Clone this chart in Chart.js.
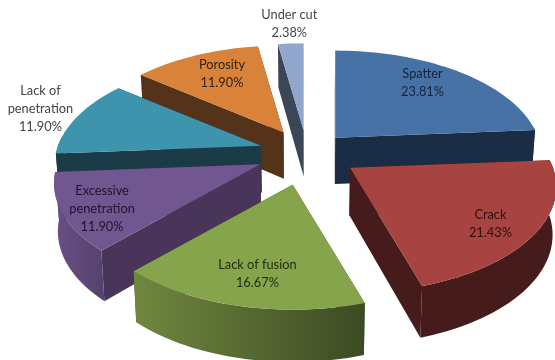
<!DOCTYPE html>
<html>
<head>
<meta charset="utf-8">
<title>Weld defects</title>
<script src="https://cdn.jsdelivr.net/npm/chart.js@4"></script>
<style>
  html, body { margin: 0; background: #fff; }
  canvas { display: block; }
</style>
</head>
<body>
<canvas id="chart" width="555" height="360"></canvas>
<script>
// defect shares in percent
const categories = ['Spatter', 'Crack', 'Lack of fusion', 'Excessive\npenetration', 'Lack of\npenetration', 'Porosity', 'Under cut'];
const shares = [23.81, 21.43, 16.67, 11.90, 11.90, 11.90, 2.38];

const topColors = ['#4672a6', '#a74340', '#86a44c', '#71568f', '#3f94ad', '#d8823a', '#90a6cc'];
const sideColors = ['#1b2d44', '#451c1b', '#3c4a22', '#483559', '#1b3b47', '#55331a', '#3b4658'];
const wallColors = [['#1b2d44', '#1b2d44'], ['#451c1b', '#451c1b'], ['#70873f', '#3c4a22'], ['#6a5086', '#57426f'], ['#1b3b47', '#1b3b47'], ['#55331a', '#55331a'], ['#3b4658', '#3b4658']];

// how far each slice is pulled out, as a fraction of the radius
const explode = [0.21, 0.25, 0.30, 0.25, 0.24, 0.24, 0.23];
// label placement along the slice's middle angle
const labelDist = [0.94, 0.99, 0.95, 1.04, 1.476, 0.95, 1.58];
const labelNudge = [[0, -7], [-1, 7], [2, 7], [2, 6], [-1, -2.5], [-1, -6], [1, -3]];
const labelColors = ['#15233a', '#2a1010', '#1f2a0c', '#1e1430', '#444444', '#33220f', '#444444'];

// perspective for the tilted disc
const cx = 307, cy = 153, scaleX = 203, scaleY = 102.6, persp = 0.179;
const lineHeight = 18;

function project(u, v) {
    const w = 1 - persp * v;
    return { x: cx + scaleX * u / w, y: cy + scaleY * v / w };
}

// same point on the underside of the disc
function drop(p) {
    return { x: cx + (p.x - cx) * 0.985, y: p.y + 47 + 3.5 * (p.y - cy) / scaleY };
}

function fillPoly(ctx, points, fill) {
    ctx.beginPath();
    points.forEach((p, i) => i ? ctx.lineTo(p.x, p.y) : ctx.moveTo(p.x, p.y));
    ctx.closePath();
    ctx.fillStyle = fill;
    ctx.fill();
}

function drawSlice(ctx, arc, i) {
    const mid = (arc.startAngle + arc.endAngle) / 2;
    const apex = project(explode[i] * Math.cos(mid), explode[i] * Math.sin(mid));
    const rim = [];
    for (let a = arc.startAngle; a < arc.endAngle; a += Math.PI / 90) rim.push(a);
    rim.push(arc.endAngle);
    // the rim keeps the shape of the centred disc, shifted to the slice's apex
    const at = a => {
        const p = project(Math.cos(a), Math.sin(a));
        return { x: p.x + apex.x - cx, y: p.y + apex.y - cy };
    };

    // cut faces
    [at(arc.startAngle), at(arc.endAngle)].forEach(e => {
        fillPoly(ctx, [apex, e, drop(e), drop(apex)], sideColors[i]);
    });

    // curved outer wall, only the part that faces the viewer
    const front = rim.filter(a => Math.sin(a) > -0.12);
    if (front.length > 1) {
        const upper = front.map(at);
        const lower = upper.map(drop).reverse();
        const xs = upper.map(p => p.x);
        const grad = ctx.createLinearGradient(Math.min(...xs), 0, Math.max(...xs), 0);
        grad.addColorStop(0, wallColors[i][0]);
        grad.addColorStop(1, wallColors[i][1]);
        fillPoly(ctx, upper.concat(lower), grad);
    }

    // top face
    fillPoly(ctx, [apex].concat(rim.map(at)), arc.options.backgroundColor);
}

function drawLabel(ctx, chart, arc, i) {
    const mid = (arc.startAngle + arc.endAngle) / 2;
    const p = project(labelDist[i] * Math.cos(mid), labelDist[i] * Math.sin(mid));
    const lines = chart.data.labels[i].split('\n');
    lines.push(chart.data.datasets[0].data[i].toFixed(2) + '%');
    ctx.fillStyle = labelColors[i];
    ctx.font = '12.8px Lato';
    ctx.textAlign = 'center';
    ctx.textBaseline = 'middle';
    lines.forEach((line, k) => {
        const y = p.y + labelNudge[i][1] + (k - (lines.length - 1) / 2) * lineHeight;
        ctx.fillText(line, p.x + labelNudge[i][0], y);
    });
}

const pie3d = {
    id: 'pie3d',
    beforeDatasetsDraw(chart) {
        const ctx = chart.ctx;
        const arcs = chart.getDatasetMeta(0).data;
        // back slices first so the front ones overlap them
        const order = arcs.map((_, i) => i).sort((a, b) => {
            return Math.sin((arcs[a].startAngle + arcs[a].endAngle) / 2) - Math.sin((arcs[b].startAngle + arcs[b].endAngle) / 2);
        });
        order.forEach(i => drawSlice(ctx, arcs[i], i));
        arcs.forEach((arc, i) => drawLabel(ctx, chart, arc, i));
        return false;
    }
};

new Chart(document.getElementById('chart'), {
    type: 'pie',
    data: {
        labels: categories,
        datasets: [{ data: shares, backgroundColor: topColors, borderWidth: 0 }]
    },
    options: {
        responsive: false,
        animation: false,
        plugins: { legend: { display: false }, tooltip: { enabled: false } }
    },
    plugins: [pie3d]
});
</script>
</body>
</html>
